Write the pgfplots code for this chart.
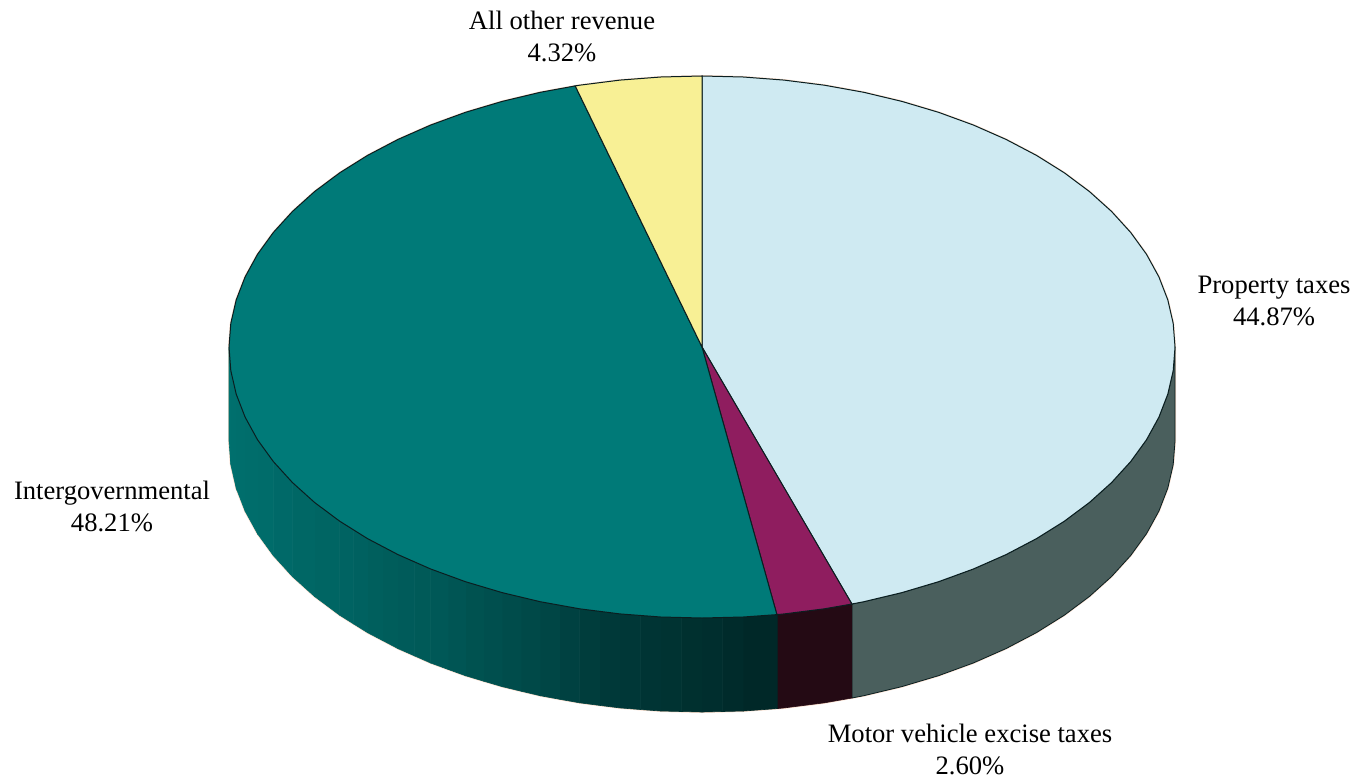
\documentclass[border=0pt]{standalone}
\usepackage{pgfplots}
\pgfplotsset{compat=1.18}
\usepackage{fontspec}
\setmainfont{Liberation Serif}
\definecolor{propTop}{RGB}{207,234,242}
\definecolor{propSide}{RGB}{74,95,93}
\definecolor{motorTop}{RGB}{143,29,95}
\definecolor{motorSide}{RGB}{36,10,20}
\definecolor{interTop}{RGB}{0,122,120}
\definecolor{interLight}{RGB}{0,112,110}
\definecolor{interDark}{RGB}{0,38,38}
\definecolor{otherTop}{RGB}{248,240,149}
\definecolor{rim}{RGB}{10,30,32}
\definecolor{halo}{RGB}{250,222,205}
% one shaded band of the rim: shade, then x, top y, bottom y at both ends
\newcommand{\rimband}[7]{%
  \addplot[fill=interLight!#1!interDark,draw=interLight!#1!interDark,line width=0.3pt]
    coordinates {(#2,#3)(#5,#6)(#5,#7)(#2,#4)} --cycle;}
\newcommand{\pielabel}[3]{\node[align=center,font=\fontsize{13.3}{16}\selectfont] at (axis cs:#1,#2) {#3};}
\begin{document}
\begin{tikzpicture}
\begin{axis}[
  scale only axis, width=682pt, height=390.5pt,
  xmin=0, xmax=1364, ymin=0, ymax=781, y dir=reverse,
  hide axis, clip=false]

% keep the whole frame in the picture's bounding box
\path (axis cs:0,0) rectangle (axis cs:1364,781);

% soft edge round the outer silhouette
\addplot[draw=halo,line width=1pt] coordinates {
 (229,347)(229,441)(230.8,464.6)(236.2,488.1)(245.1,511.1)(257.5,533.7)(273.3,555.5)(292.4,576.5)(314.5,596.4)(339.7,615.2)(367.5,632.6)(398,648.6)(430.7,663)(465.5,675.7)(502.1,686.6)(540.2,695.7)(579.6,702.8)(619.9,707.9)(660.8,711)(702,712)(743.2,711)(784.1,707.9)(824.4,702.8)(863.8,695.7)(901.9,686.6)(938.5,675.7)(973.3,663)(1006,648.6)(1036.5,632.6)(1064.3,615.2)(1089.5,596.4)(1111.6,576.5)(1130.7,555.5)(1146.5,533.7)(1158.9,511.1)(1167.8,488.1)(1173.2,464.6)(1175,441)(1175,347)};
\addplot[draw=halo,line width=1pt] coordinates {
 (229,347)(230.8,323.4)(236.2,299.9)(245.1,276.9)(257.5,254.3)(273.3,232.5)(292.4,211.5)(314.5,191.6)(339.7,172.8)(367.5,155.4)(398,139.4)(430.7,125)(465.5,112.3)(502.1,101.4)(540.2,92.3)(579.6,85.2)(619.9,80.1)(660.8,77)(702,76)(743.2,77)(784.1,80.1)(824.4,85.2)(863.8,92.3)(901.9,101.4)(938.5,112.3)(973.3,125)(1006,139.4)(1036.5,155.4)(1064.3,172.8)(1089.5,191.6)(1111.6,211.5)(1130.7,232.5)(1146.5,254.3)(1158.9,276.9)(1167.8,299.9)(1173.2,323.4)(1175,347)};

% rim of the property taxes slice
\addplot[fill=propSide,draw=rim,line width=0.4pt] coordinates {
 (1175,347)(1173.2,370.6)(1167.8,394.1)(1158.9,417.1)(1146.5,439.7)(1130.7,461.5)(1111.6,482.5)(1089.5,502.4)(1064.3,521.2)(1036.5,538.6)(1006,554.6)(973.3,569)(938.5,581.7)(901.9,592.6)(863.8,601.7)(851.9,604)
 (851.9,698)(863.8,695.7)(901.9,686.6)(938.5,675.7)(973.3,663)(1006,648.6)(1036.5,632.6)(1064.3,615.2)(1089.5,596.4)(1111.6,576.5)(1130.7,555.5)(1146.5,533.7)(1158.9,511.1)(1167.8,488.1)(1173.2,464.6)(1175,441)} --cycle;

% rim of the motor vehicle excise taxes slice
\addplot[fill=motorSide,draw=motorSide,line width=0.3pt] coordinates {
 (851.9,604)(824.4,608.8)(784.1,613.9)(776.9,614.6)(776.9,708.6)(784.1,707.9)(824.4,702.8)(851.9,698)} --cycle;

% rim of the intergovernmental slice, darkening towards the front
\rimband{3}{776.9}{614.6}{708.6}{743.2}{617}{711}
\rimband{7}{743.2}{617}{711}{722.6}{617.5}{711.5}
\rimband{11}{722.6}{617.5}{711.5}{702}{618}{712}
\rimband{13}{702}{618}{712}{681.4}{617.5}{711.5}
\rimband{17}{681.4}{617.5}{711.5}{660.8}{617}{711}
\rimband{19}{660.8}{617}{711}{640.4}{615.5}{709.5}
\rimband{23}{640.4}{615.5}{709.5}{619.9}{613.9}{707.9}
\rimband{26}{619.9}{613.9}{707.9}{599.8}{611.4}{705.4}
\rimband{31}{599.8}{611.4}{705.4}{579.6}{608.8}{702.8}
\rimband{37}{579.6}{608.8}{702.8}{559.9}{605.3}{699.3}
\rimband{43}{559.9}{605.3}{699.3}{540.2}{601.7}{695.7}
\rimband{47}{540.2}{601.7}{695.7}{521.2}{597.2}{691.2}
\rimband{51}{521.2}{597.2}{691.2}{502.1}{592.6}{686.6}
\rimband{55}{502.1}{592.6}{686.6}{483.8}{587.2}{681.2}
\rimband{59}{483.8}{587.2}{681.2}{465.5}{581.7}{675.7}
\rimband{64}{465.5}{581.7}{675.7}{448.1}{575.4}{669.4}
\rimband{68}{448.1}{575.4}{669.4}{430.7}{569}{663}
\rimband{70}{430.7}{569}{663}{414.4}{561.8}{655.8}
\rimband{72}{414.4}{561.8}{655.8}{398}{554.6}{648.6}
\rimband{74}{398}{554.6}{648.6}{382.8}{546.6}{640.6}
\rimband{77}{382.8}{546.6}{640.6}{367.5}{538.6}{632.6}
\rimband{80}{367.5}{538.6}{632.6}{353.6}{529.9}{623.9}
\rimband{83}{353.6}{529.9}{623.9}{339.7}{521.2}{615.2}
\rimband{85}{339.7}{521.2}{615.2}{314.5}{502.4}{596.4}
\rimband{88}{314.5}{502.4}{596.4}{292.4}{482.5}{576.5}
\rimband{91}{292.4}{482.5}{576.5}{273.3}{461.5}{555.5}
\rimband{94}{273.3}{461.5}{555.5}{257.5}{439.7}{533.7}
\rimband{96}{257.5}{439.7}{533.7}{245.1}{417.1}{511.1}
\rimband{97}{245.1}{417.1}{511.1}{236.2}{394.1}{488.1}
\rimband{99}{236.2}{394.1}{488.1}{230.8}{370.6}{464.6}
\rimband{100}{230.8}{370.6}{464.6}{229}{347}{441}

% seam between the two front slices
\addplot[draw=rim,line width=0.4pt] coordinates {(776.9,614.6)(776.9,708.6)};

% top faces
\addplot[fill=propTop,draw=rim,line width=0.5pt] coordinates {
 (702,347)(702,76)(743.2,77)(784.1,80.1)(824.4,85.2)(863.8,92.3)(901.9,101.4)(938.5,112.3)(973.3,125)(1006,139.4)(1036.5,155.4)(1064.3,172.8)(1089.5,191.6)(1111.6,211.5)(1130.7,232.5)(1146.5,254.3)(1158.9,276.9)(1167.8,299.9)(1173.2,323.4)(1175,347)(1173.2,370.6)(1167.8,394.1)(1158.9,417.1)(1146.5,439.7)(1130.7,461.5)(1111.6,482.5)(1089.5,502.4)(1064.3,521.2)(1036.5,538.6)(1006,554.6)(973.3,569)(938.5,581.7)(901.9,592.6)(863.8,601.7)(851.9,604)} --cycle;
\addplot[fill=motorTop,draw=rim,line width=0.5pt] coordinates {
 (702,347)(851.9,604)(824.4,608.8)(784.1,613.9)(776.9,614.6)} --cycle;
\addplot[fill=interTop,draw=rim,line width=0.5pt] coordinates {
 (702,347)(776.9,614.6)(743.2,617)(702,618)(660.8,617)(619.9,613.9)(579.6,608.8)(540.2,601.7)(502.1,592.6)(465.5,581.7)(430.7,569)(398,554.6)(367.5,538.6)(339.7,521.2)(314.5,502.4)(292.4,482.5)(273.3,461.5)(257.5,439.7)(245.1,417.1)(236.2,394.1)(230.8,370.6)(229,347)(230.8,323.4)(236.2,299.9)(245.1,276.9)(257.5,254.3)(273.3,232.5)(292.4,211.5)(314.5,191.6)(339.7,172.8)(367.5,155.4)(398,139.4)(430.7,125)(465.5,112.3)(502.1,101.4)(540.2,92.3)(575.2,85.9)} --cycle;
\addplot[fill=otherTop,draw=rim,line width=0.5pt] coordinates {
 (702,347)(575.2,85.9)(579.6,85.2)(619.9,80.1)(660.8,77)(702,76)} --cycle;

\pielabel{562}{36}{All other revenue\\4.32\%}
\pielabel{1274}{301}{Property taxes\\44.87\%}
\pielabel{112}{506}{Intergovernmental\\48.21\%}
\pielabel{970}{749.5}{Motor vehicle excise taxes\\2.60\%}
\end{axis}
\end{tikzpicture}
\end{document}
